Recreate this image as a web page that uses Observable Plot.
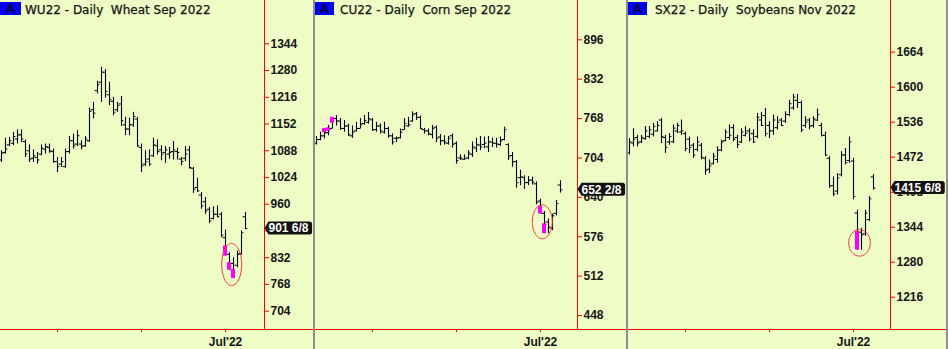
<!DOCTYPE html>
<html><head><meta charset="utf-8">
<script src="https://cdn.jsdelivr.net/npm/d3@7"></script>
<script src="https://cdn.jsdelivr.net/npm/@observablehq/plot@0.6"></script>
<style>
html,body{margin:0;padding:0;background:#eefcc6;}
#root{position:relative;width:948px;height:349px;overflow:hidden;background:#eefcc6;}
.panel{position:absolute;top:0;height:349px;}
.badge{position:absolute;top:2px;height:13px;background:#0000f0;color:#000;font:13px "DejaVu Sans",sans-serif;text-align:center;line-height:13px;}
.title{position:absolute;top:2px;font:12px "DejaVu Sans",sans-serif;color:#141414;white-space:pre;line-height:16px;-webkit-text-stroke:0.25px #141414;}
.sep{position:absolute;top:0;height:349px;width:2px;background:#8e8e8e;}
</style></head><body><div id="root"></div>
<script>
// ---------- data ----------
const monthTickIdx = [14, 35, 56];
const monthTickLabels = ["", "", "Jul'22"];

// Wheat Sep 2022 (WU22)
const wheatOpen  = [1066,1084,1102,1106,1116,1126,1110,1088,1070,1072,1080,1092,1096,1086,1062,1056,1050,1086,1112,1104,1104,1100,1112,1186,1232,1252,1276,1222,1206,1186,1200,1150,1140,1150,1164,1096,1056,1068,1076,1100,1090,1084,1080,1086,1086,1068,1070,1090,1046,1000,982,966,948,926,936,936,880,840,818,814,842,930];
const wheatHigh  = [1088,1118,1120,1132,1138,1138,1114,1102,1090,1084,1102,1104,1104,1092,1072,1072,1092,1122,1128,1136,1112,1122,1190,1204,1254,1288,1282,1252,1216,1204,1218,1168,1166,1180,1168,1104,1088,1090,1118,1114,1100,1098,1096,1110,1094,1072,1098,1098,1048,1022,988,976,952,954,956,940,898,844,832,848,896,940];
const wheatLow   = [1060,1080,1098,1100,1104,1108,1072,1060,1060,1056,1076,1080,1082,1058,1036,1048,1046,1080,1092,1098,1090,1096,1108,1164,1224,1204,1214,1196,1172,1180,1146,1124,1124,1144,1096,1036,1050,1050,1072,1078,1064,1058,1068,1066,1066,1052,1062,1044,986,988,948,936,914,922,928,880,836,802,782,808,838,900];
const wheatClose = [1082,1092,1112,1122,1126,1116,1080,1068,1076,1066,1094,1098,1088,1062,1050,1062,1086,1112,1100,1124,1098,1116,1182,1178,1246,1276,1230,1210,1180,1196,1160,1140,1150,1170,1100,1052,1062,1056,1102,1086,1080,1090,1084,1090,1084,1062,1080,1048,996,992,956,944,920,936,930,886,846,812,796,840,892,901.75];
const wheatTicks = [704,768,832,896,960,1024,1088,1152,1216,1280,1344];
const wheatHiddenTicks = [896]; // covered by the last-price flag
const wheatMagIdx = [56,57,58], wheatMagTop = [860,820,804], wheatMagBot = [836,802,782];
const wheatEllipse = [57.55, 815.6, 2.5, 50.3]; // centre index, centre price, half-width (bars), half-height (price)
const wheatLast = "901 6/8";

// Corn Sep 2022 (CU22)
const cornOpen  = [728,734,740,745,752,768,764,752,756,740,748,752,760,762,766,750,756,746,752,740,736,737,750,756,764,776,770,750,748,742,754,738,732,728,740,728,704,702,704,710,720,725,726,722,730,728,726,734,726,708,698,672,672,664,668,662,634,614,600,590,614,660];
const cornHigh  = [739,746,752,757,770,773,768,765,759,756,762,768,773,778,768,762,759,762,754,743,738,751,768,770,779,778,772,752,751,757,756,742,740,739,743,730,709,709,716,730,736,739,738,739,736,736,738,754,727,713,700,684,675,674,673,665,637,617,605,613,635,667];
const cornLow   = [725,732,735,740,751,756,749,746,739,736,746,751,757,759,747,746,743,743,736,725,729,735,749,754,762,765,750,743,740,735,729,724,725,725,720,694,700,700,701,705,713,716,719,713,721,720,723,732,700,689,655,659,653,659,660,628,613,581,581,586,610,647];
const cornClose = [734,740,745,750,768,764,752,756,742,746,752,758,765,768,750,756,748,752,740,730,736,746,760,758,774,770,752,748,744,752,736,732,730,736,726,700,704,703,712,722,726,722,728,730,728,727,732,750,706,698,664,674,664,668,665,632,616,596,592,610,630,652.25];
const cornTicks = [448,512,576,640,704,768,832,896];
const cornHiddenTicks = [];
const cornMagIdx = [2,3,4,56,57], cornMagTop = [752,753,770,625.5,597], cornMagBot = [745,747.5,760.5,613,581];
const cornEllipse = [56.45, 600.3, 2.5, 27.6];
const cornLast = "652 2/8";

// Soybeans Nov 2022 (SX22)
const soyOpen  = [1480,1498,1508,1500,1506,1510,1514,1520,1540,1508,1500,1500,1520,1518,1515,1505,1494,1486,1494,1470,1450,1460,1468,1485,1502,1508,1526,1508,1500,1512,1520,1515,1510,1540,1548,1530,1520,1526,1540,1538,1550,1562,1576,1572,1530,1540,1530,1540,1530,1512,1470,1420,1410,1440,1476,1466,1465,1370,1335,1332,1358,1436];
const soyHigh  = [1506,1524,1512,1512,1528,1528,1534,1537,1543,1512,1515,1531,1534,1540,1518,1509,1497,1509,1497,1473,1467,1479,1491,1503,1522,1531,1531,1512,1524,1528,1524,1522,1552,1554,1561,1537,1549,1546,1543,1555,1576,1587,1587,1575,1546,1543,1546,1560,1534,1518,1473,1436,1442,1482,1488,1509,1470,1375,1342,1375,1400,1440];
const soyLow   = [1476,1491,1491,1497,1503,1506,1509,1518,1497,1479,1494,1497,1515,1512,1482,1479,1470,1482,1467,1439,1442,1458,1461,1482,1500,1503,1500,1488,1497,1509,1500,1497,1506,1528,1509,1506,1512,1522,1528,1534,1546,1558,1561,1517,1525,1522,1525,1537,1509,1473,1415,1400,1403,1436,1458,1461,1394,1302,1302,1327,1354,1412];
const soyClose = [1500,1505,1498,1508,1520,1522,1528,1530,1510,1490,1510,1525,1530,1520,1488,1490,1476,1500,1472,1448,1456,1474,1485,1500,1518,1512,1505,1495,1518,1516,1505,1500,1545,1530,1515,1520,1540,1536,1530,1550,1570,1582,1572,1522,1536,1528,1542,1550,1512,1476,1420,1405,1434,1476,1462,1500,1400,1320,1330,1370,1396,1415.75];
const soyTicks = [1216,1280,1344,1408,1472,1536,1600,1664];
const soyHiddenTicks = [];
const soyMagIdx = [57], soyMagTop = [1336], soyMagBot = [1302];
const soyEllipse = [57.5, 1315.5, 2.7, 24.3];
const soyLast = "1415 6/8";

// ---------- layout ----------
const panels = [
  {left:0,   width:313, x0:1, badgeLeft:0,   badgeW:21, titleLeft:25,  title:"WU22 - Daily  Wheat Sep 2022",
   open:wheatOpen, high:wheatHigh, low:wheatLow, close:wheatClose, ticks:wheatTicks, hidden:wheatHiddenTicks, yDomain:[660.2,1447.6],
   magIdx:wheatMagIdx, magTop:wheatMagTop, magBot:wheatMagBot, ell:wheatEllipse, last:wheatLast},
  {left:313, width:313, x0:3, badgeLeft:315, badgeW:19, titleLeft:340, title:"CU22 - Daily  Corn Sep 2022",
   open:cornOpen, high:cornHigh, low:cornLow, close:cornClose, ticks:cornTicks, hidden:cornHiddenTicks, yDomain:[425.3,959.9],
   magIdx:cornMagIdx, magTop:cornMagTop, magBot:cornMagBot, ell:cornEllipse, last:cornLast},
  {left:626, width:322, x0:3, badgeLeft:628, badgeW:19, titleLeft:655, title:"SX22 - Daily  Soybeans Nov 2022",
   open:soyOpen, high:soyHigh, low:soyLow, close:soyClose, ticks:soyTicks, hidden:soyHiddenTicks, yDomain:[1157,1758.5],
   magIdx:soyMagIdx, magTop:soyMagTop, magBot:soyMagBot, ell:soyEllipse, last:soyLast}
];

const root = document.getElementById("root");
const RED = "#ff0000", INK = "#151515", FONT = "'Liberation Sans', Arial, sans-serif";
const plotRight = 264;

for (const cfg of panels) {
  const rows = cfg.open.map((o, i) => ({i, o, h: cfg.high[i], l: cfg.low[i], c: cfg.close[i]}));
  const mags = cfg.magIdx.map((i, k) => ({i, t: cfg.magTop[k], b: cfg.magBot[k]}));
  const idx = px => (px - cfg.x0) / 4;
  const [ecx, ecy, erx, ery] = cfg.ell;
  const ell = d3.range(60).map(k => {
    const a = 2 * Math.PI * k / 60;
    return {x: ecx + erx * Math.cos(a), y: ecy + ery * Math.sin(a)};
  });
  const plot = Plot.plot({
    width: cfg.width, height: 349,
    marginTop: 0, marginBottom: 20, marginLeft: 0, marginRight: cfg.width - plotRight,
    x: {type: "linear", domain: [idx(0), idx(plotRight)], axis: null},
    y: {type: "linear", domain: cfg.yDomain, axis: null},
    style: {background: "transparent", overflow: "visible", fontFamily: FONT},
    marks: [
      Plot.ruleX([idx(plotRight)], {stroke: RED}),
      Plot.ruleY([cfg.yDomain[0]], {x1: () => idx(0), x2: () => idx(cfg.width + 2), stroke: RED}),
      Plot.ruleX(rows, {x: "i", y1: "l", y2: "h", stroke: "#000", strokeWidth: 1.1}),
      Plot.ruleY(rows, {y: "o", x1: d => d.i - 0.6, x2: "i", stroke: "#000"}),
      Plot.ruleY(rows, {y: "c", x1: "i", x2: d => d.i + 0.6, stroke: "#000"}),
      Plot.rect(mags, {x1: d => d.i - 0.5, x2: d => d.i + 0.5, y1: "b", y2: "t", fill: "#ff00ff"}),
      Plot.line(ell, {x: "x", y: "y", stroke: "#f03a3a", strokeWidth: 1, curve: "linear-closed"}),
      Plot.axisY(cfg.ticks, {anchor: "right", tickSize: 4, tickPadding: 2, stroke: RED, fill: INK,
        fontSize: 12, fontWeight: "bold", fontFamily: FONT, label: null,
        tickFormat: d => cfg.hidden.includes(d) ? "" : String(d)}),
      Plot.axisX(monthTickIdx, {anchor: "bottom", tickSize: 3, tickPadding: 5, stroke: RED, fill: INK,
        fontSize: 12, fontWeight: "bold", fontFamily: FONT, label: null,
        tickFormat: d => monthTickLabels[monthTickIdx.indexOf(d)]})
    ]
  });
  const wrap = document.createElement("div");
  wrap.className = "panel";
  wrap.style.left = cfg.left + "px";
  wrap.style.width = cfg.width + "px";
  wrap.appendChild(plot);
  root.appendChild(wrap);

  // last-price flag, positioned with the plot's y scale
  const c = plot.scale("y").apply(cfg.close[cfg.close.length - 1]);
  const g = d3.select(plot).append("g");
  const path = g.append("path").attr("fill", "#111");
  const txt = g.append("text").attr("x", 268.5).attr("y", c + 4.3)
    .attr("fill", "#fff").attr("font-size", 12).attr("font-weight", "bold")
    .attr("font-family", FONT).attr("text-anchor", "start").text(cfg.last);
  const tw = txt.node().getComputedTextLength();
  const r = 268.5 + tw + 3.5, t = c - 6.5, b = c + 6.5, x0 = 264.5;
  path.attr("d", `M${x0},${c} L${x0 + 4},${t} H${r - 2.5} Q${r},${t} ${r},${t + 2.5} V${b - 2.5} Q${r},${b} ${r - 2.5},${b} H${x0 + 4} Z`);

  const badge = document.createElement("div");
  badge.className = "badge";
  badge.style.left = cfg.badgeLeft + "px";
  badge.style.width = cfg.badgeW + "px";
  badge.textContent = "A";
  root.appendChild(badge);
  const title = document.createElement("div");
  title.className = "title";
  title.style.left = cfg.titleLeft + "px";
  title.textContent = cfg.title;
  root.appendChild(title);
}
for (const x of [313, 626, 946]) {
  const s = document.createElement("div");
  s.className = "sep";
  s.style.left = x + "px";
  root.appendChild(s);
}
</script>
</body></html>
